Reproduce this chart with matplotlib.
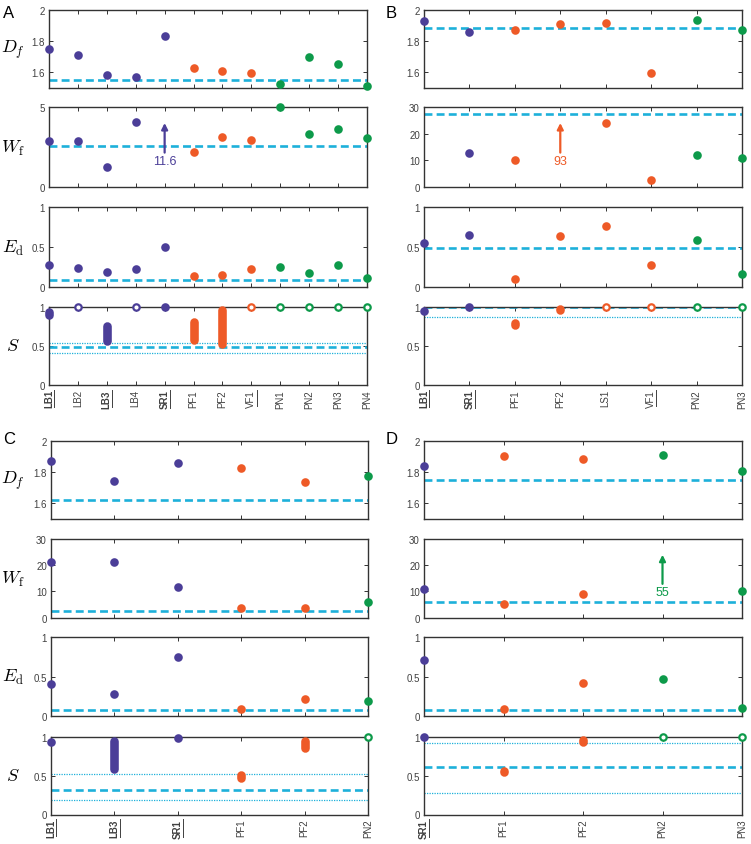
import numpy as np
import matplotlib
matplotlib.use('Agg')
import matplotlib.pyplot as plt
from matplotlib.lines import Line2D
from matplotlib.ticker import FormatStrFormatter

plt.rcParams['font.family'] = ['Liberation Sans', 'DejaVu Sans']
plt.rcParams['mathtext.fontset'] = 'cm'

# ---------------- data ----------------
nan = np.nan
# Panel A
A_labels = ['LB1', 'LB2', 'LB3', 'LB4', 'SR1', 'PF1', 'PF2', 'VF1', 'PN1', 'PN2', 'PN3', 'PN4']
A_group = ['LB', 'LB', 'LB', 'LB', 'LB', 'PF', 'PF', 'PF', 'PN', 'PN', 'PN', 'PN']
A_bold = [1, 0, 1, 0, 1, 0, 0, 0, 0, 0, 0, 0]
A_under = [1, 0, 1, 0, 1, 0, 0, 1, 0, 0, 0, 0]
A_Df = [1.753, 1.712, 1.581, 1.570, 1.832, 1.626, 1.611, 1.596, 1.525, 1.697, 1.656, 1.514]
A_Wf = [2.88, 2.86, 1.23, 4.06, 11.6, 2.17, 3.11, 2.94, 5.0, 3.32, 3.62, 3.05]
A_Ed = [0.27, 0.235, 0.185, 0.219, 0.496, 0.139, 0.156, 0.227, 0.252, 0.176, 0.27, 0.11]
A_S_lo = [0.90, 1, 0.56, 1, 1, 0.575, 0.52, 1, 1, 1, 1, 1]
A_S_hi = [0.93, 1, 0.75, 1, 1, 0.81, 0.96, 1, 1, 1, 1, 1]
A_S_open = [0, 1, 0, 1, 0, 0, 0, 1, 1, 1, 1, 1]
A_ref = dict(Df=1.553, Wf=2.55, Ed=0.084, S=0.49, S_band=(0.41, 0.532))

# Panel B
B_labels = ['LB1', 'SR1', 'PF1', 'PF2', 'LS1', 'VF1', 'PN2', 'PN3']
B_group = ['LB', 'LB', 'PF', 'PF', 'PF', 'PF', 'PN', 'PN']
B_bold = [1, 1, 0, 0, 0, 0, 0, 0]
B_under = [1, 1, 0, 0, 0, 1, 0, 0]
B_Df = [1.927, 1.860, 1.869, 1.908, 1.916, 1.594, 1.938, 1.869]
B_Wf = [nan, 12.6, 10.3, 93, 23.9, 2.8, 12.1, 11.0]
B_Ed = [0.554, 0.646, 0.104, 0.634, 0.763, 0.275, 0.592, 0.166]
B_S_lo = [0.94, 1, 0.76, 0.955, 1, 1, 1, 1]
B_S_hi = [0.94, 1, 0.79, 0.975, 1, 1, 1, 1]
B_S_open = [0, 0, 0, 0, 1, 1, 1, 1]
B_ref = dict(Df=1.882, Wf=27.2, Ed=0.49, S=0.995, S_band=(0.87, 1.12))

# Panel C
C_labels = ['LB1', 'LB3', 'SR1', 'PF1', 'PF2', 'PN2']
C_group = ['LB', 'LB', 'LB', 'PF', 'PF', 'PN']
C_bold = [1, 1, 1, 0, 0, 0]
C_under = [1, 1, 1, 0, 0, 0]
C_Df = [1.867, 1.738, 1.856, 1.822, 1.735, 1.774]
C_Wf = [21.4, 21.1, 11.7, 3.7, 3.6, 6.1]
C_Ed = [0.409, 0.274, 0.754, 0.084, 0.21, 0.19]
C_S_lo = [0.94, 0.585, 0.99, 0.475, 0.865, 1]
C_S_hi = [0.94, 0.95, 0.99, 0.51, 0.955, 1]
C_S_open = [0, 0, 0, 0, 0, 1]
C_ref = dict(Df=1.622, Wf=2.56, Ed=0.08, S=0.316, S_band=(0.186, 0.527))

# Panel D
D_labels = ['SR1', 'PF1', 'PF2', 'PN2', 'PN3']
D_group = ['LB', 'PF', 'PF', 'PN', 'PN']
D_bold = [1, 0, 0, 0, 0]
D_under = [1, 0, 0, 0, 0]
D_Df = [1.839, 1.899, 1.880, 1.908, 1.803]
D_Wf = [11.1, 5.3, 8.9, 55, 10.2]
D_Ed = [0.715, 0.093, 0.415, 0.474, 0.105]
D_S_lo = [1, 0.545, 0.94, 1, 1]
D_S_hi = [1, 0.565, 0.96, 1, 1]
D_S_open = [0, 0, 0, 1, 1]
D_ref = dict(Df=1.745, Wf=6.0, Ed=0.076, S=0.62, S_band=(0.28, 0.93))

Wf_max = dict(A=5, B=30, C=30, D=30)

# ---------------- style ----------------
COL = {'LB': '#4B3E98', 'PF': '#EE5A27', 'PN': '#0D9A4A'}
CYAN = '#1DB0DA'
AX_COL = '#333333'
TXT_COL = '#404040'

W, H = 751, 845
fig = plt.figure(figsize=(W / 100, H / 100), dpi=100)


def rect(x0, x1, y0, y1):
    return [x0 / W, 1 - y1 / H, (x1 - x0) / W, (y1 - y0) / H]


rows_top = [(11, 89), (108, 188), (208, 288), (307.7, 386)]
rows_bot = [(441.7, 519.5), (540, 618.7), (638.3, 717), (738.3, 815.5)]

panels = [
    ('A', (49, 367), rows_top, A_labels, A_group, A_bold, A_under, A_Df, A_Wf, A_Ed,
     A_S_lo, A_S_hi, A_S_open, A_ref, True, (3, 14)),
    ('B', (424, 742), rows_top, B_labels, B_group, B_bold, B_under, B_Df, B_Wf, B_Ed,
     B_S_lo, B_S_hi, B_S_open, B_ref, False, (386, 14)),
    ('C', (51, 368), rows_bot, C_labels, C_group, C_bold, C_under, C_Df, C_Wf, C_Ed,
     C_S_lo, C_S_hi, C_S_open, C_ref, True, (3, 440)),
    ('D', (424, 742), rows_bot, D_labels, D_group, D_bold, D_under, D_Df, D_Wf, D_Ed,
     D_S_lo, D_S_hi, D_S_open, D_ref, False, (386, 440)),
]

ylabels = [r'$D_f$', r'$W_\mathrm{f}$', r'$E_\mathrm{d}$', r'$S$']
underline_jobs = []


def style_axis(ax, n, ylim, yticks):
    ax.set_xlim(0, n - 1)
    ax.set_ylim(*ylim)
    ax.set_xticks(range(n))
    ax.set_yticks(yticks)
    ax.yaxis.set_major_formatter(FormatStrFormatter('%g'))
    ax.tick_params(direction='in', length=2.8, width=0.7, colors=AX_COL,
                   labelcolor=TXT_COL, labelsize=7, top=True, right=True, pad=3)
    for s in ax.spines.values():
        s.set_color(AX_COL)
        s.set_linewidth(1.0)


def dashed(ax, y):
    ax.axhline(y, color=CYAN, lw=1.9, dashes=(3.0, 1.6), zorder=2)


for (letter, (x0, x1), rows, labels, group, bold, under, Df, Wf, Ed,
     Slo, Shi, Sopen, ref, left, lpos) in panels:
    n = len(labels)
    xs = np.arange(n)
    cols = [COL[g] for g in group]
    axes = [fig.add_axes(rect(x0, x1, r0, r1)) for (r0, r1) in rows]
    wmax = Wf_max[letter]
    lims = [(1.5, 2), (0, wmax), (0, 1), (0, 1)]
    ticks = [[1.6, 1.8, 2], [0, 5] if wmax == 5 else [0, 10, 20, 30], [0, 0.5, 1], [0, 0.5, 1]]
    for ax, lim, tk in zip(axes, lims, ticks):
        style_axis(ax, n, lim, tk)

    # Df, Wf, Ed scatter
    for ax, vals, key in zip(axes[:3], [Df, Wf, Ed], ['Df', 'Wf', 'Ed']):
        dashed(ax, ref[key])
        top = ax.get_ylim()[1]
        for i in range(n):
            v = vals[i]
            if np.isnan(v):
                continue
            if v > top * 1.05:
                ax.annotate('', xy=(i, 0.80 * top), xytext=(i, 0.43 * top),
                            arrowprops=dict(arrowstyle='-|>', color=cols[i], lw=1.6,
                                            mutation_scale=9, shrinkA=0, shrinkB=0))
                ax.text(i, 0.33 * top, '%g' % v, color=cols[i], ha='center',
                        va='center', fontsize=9)
            else:
                ax.plot(i, v, 'o', color=cols[i], ms=6.2, mew=0, clip_on=False, zorder=4)
        ax.set_xticklabels([])

    # S panel
    axS = axes[3]
    dashed(axS, ref['S'])
    for yb in ref['S_band']:
        axS.axhline(yb, color=CYAN, lw=0.9, ls=(0, (1, 1)), zorder=2)
    for i in range(n):
        c = cols[i]
        if Sopen[i]:
            axS.plot(i, Shi[i], 'o', mfc='white', mec=c, ms=4.6, mew=1.6,
                     clip_on=False, zorder=5)
        elif Slo[i] == Shi[i]:
            axS.plot(i, Shi[i], 'o', color=c, ms=6.2, mew=0, clip_on=False, zorder=5)
        else:
            axS.plot([i, i], [Slo[i], Shi[i]], color=c, lw=6.2,
                     solid_capstyle='round', clip_on=False, zorder=5)
    axS.set_xticklabels(labels, rotation=90)
    for lab, b, u in zip(axS.get_xticklabels(), bold, under):
        if b:
            lab.set_fontweight('bold')
        if u:
            underline_jobs.append(lab)

    if left:
        for ax, yl in zip(axes, ylabels):
            pos = ax.get_position()
            fig.text(12.5 / W, pos.y0 + pos.height / 2, yl, ha='center', va='center',
                     fontsize=13, color='black')
    fig.text(lpos[0] / W, 1 - lpos[1] / H, letter, ha='left', va='center',
             fontsize=12, color='black')

# underline rotated tick labels (line on the right side of the text)
fig.canvas.draw()
renderer = fig.canvas.get_renderer()
for lab in underline_jobs:
    bb = lab.get_window_extent(renderer)
    xline = bb.x1 + 0.3
    fig.add_artist(Line2D([xline / W, xline / W], [(bb.y0 + 0.5) / H, (bb.y1 - 0.5) / H],
                          transform=fig.transFigure, color=TXT_COL, lw=0.7))

fig.savefig('out.png', dpi=100)
